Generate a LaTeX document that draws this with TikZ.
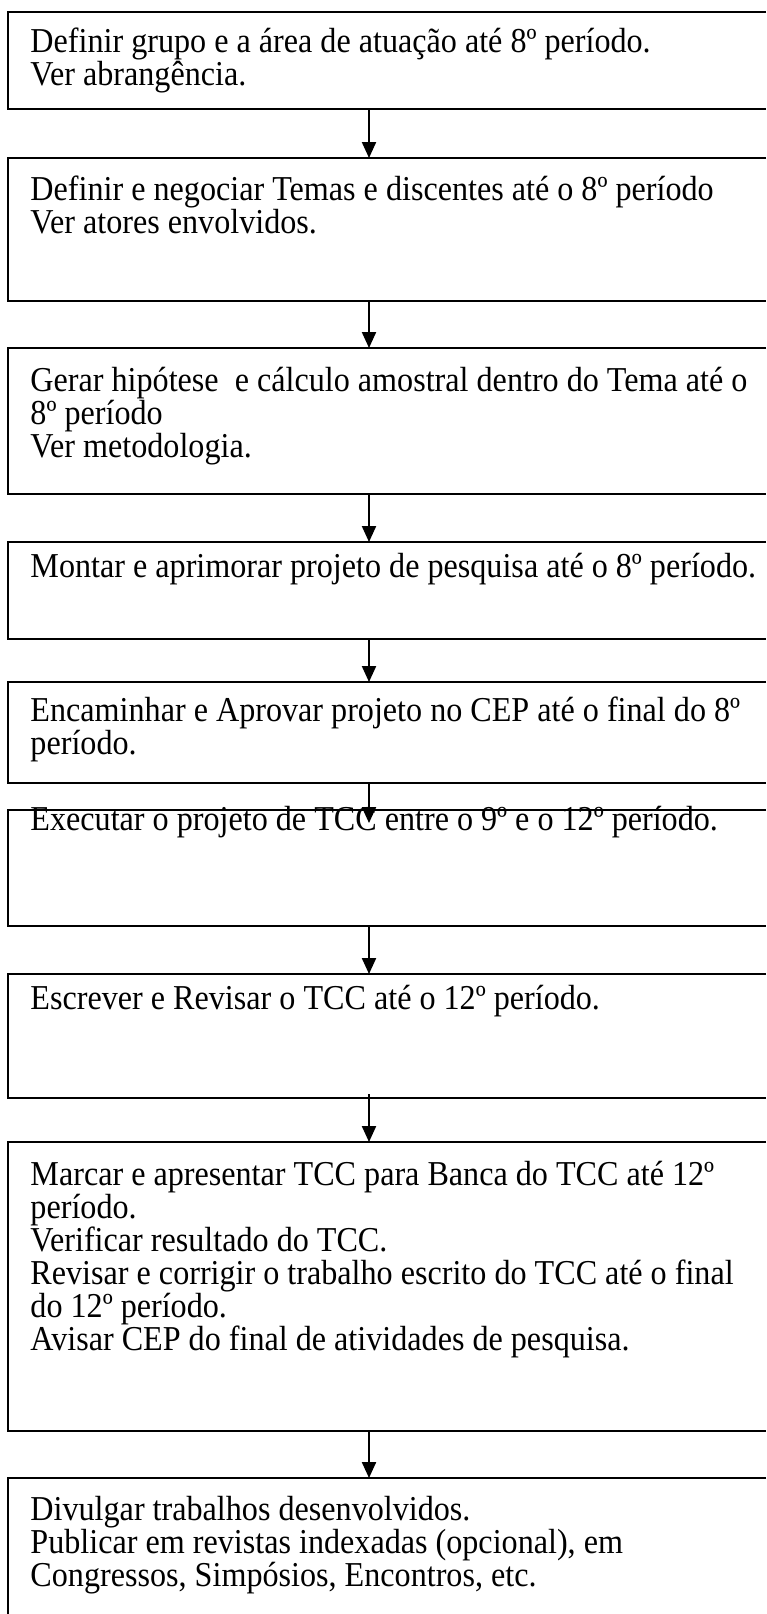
\documentclass[tikz,border=0pt]{standalone}
\usepackage{fontspec}
\setmainfont{Liberation Serif}[FakeStretch=0.92]
\usetikzlibrary{arrows.meta,calc}
\def\ux{0.42pt}
\begin{document}
\begin{tikzpicture}[x=0.42pt,y=-0.42pt,
  boxnode/.style={rectangle, inner sep=0pt, outer sep=0pt, anchor=north west, minimum width=758*\ux},
  boxline/.style={line width=0.8pt},
  txt/.style={anchor=base west, inner sep=0pt, align=left, font=\fontsize{14.67pt}{13.86pt}\selectfont},
  arr/.style={line width=0.8pt, -{Triangle[length=6.7pt,width=5.9pt]}}]
\useasboundingbox (0,0) rectangle (766,1614);
\fill[white] (0,0) rectangle (766,1614);
% boxes
\node[boxnode, minimum height=97*\ux]  (b1) at (8,12)   {};
\node[boxnode, minimum height=143*\ux] (b2) at (8,158)  {};
\node[boxnode, minimum height=146*\ux] (b3) at (8,348)  {};
\node[boxnode, minimum height=97*\ux]  (b4) at (8,542)  {};
\node[boxnode, minimum height=101*\ux] (b5) at (8,682)  {};
\node[boxnode, minimum height=116*\ux] (b6) at (8,810)  {};
\node[boxnode, minimum height=124*\ux] (b7) at (8,974)  {};
\node[boxnode, minimum height=289*\ux] (b8) at (8,1142) {};
\node[boxnode, minimum height=136*\ux] (b9) at (8,1478) {};
\foreach \b in {b1,b2,b3,b4,b5,b6,b7,b8}
  \draw[boxline] (\b.north east) -- (\b.north west) -- (\b.south west) -- (\b.south east);
\draw[boxline] (b9.north east) -- (b9.north west) -- (b9.south west);
% texts (anchored at the baseline of their last line)
\node[txt] (t1) at (30,85.5) {Definir grupo e a área de atuação até 8º período.\\Ver abrangência.};
\node[txt] (t2) at (30,234) {Definir e negociar Temas e discentes até o 8º período\\Ver atores envolvidos.};
\node[txt] (t3) at (30,457) {Gerar hipótese~ e cálculo amostral dentro do Tema até o\\8º período\\Ver metodologia.};
\node[txt] (t4) at (30,577.5) {Montar e aprimorar projeto de pesquisa até o 8º período.};
\node[txt] (t5) at (30,754.5) {Encaminhar e Aprovar projeto no CEP até o final do 8º\\período.};
\node[txt] (t6) at (30,830) {Executar o projeto de TCC entre o 9º e o 12º período.};
\node[txt] (t7) at (30,1009.5) {Escrever e Revisar o TCC até o 12º período.};
\node[txt] (t8) at (30,1350.5) {Marcar e apresentar TCC para Banca do TCC até 12º\\período.\\Verificar resultado do TCC.\\Revisar e corrigir o trabalho escrito do TCC até o final\\do 12º período.\\Avisar CEP do final de atividades de pesquisa.};
\node[txt] (t9) at (30,1586.5) {Divulgar trabalhos desenvolvidos.\\Publicar em revistas indexadas (opcional), em\\Congressos, Simpósios, Encontros, etc.};
% arrows
\coordinate (ax) at (369,0);
\coordinate (a6end) at (369,823);
\coordinate (a7start) at (369,1094);
\draw[arr] (b1.south -| ax) -- (b2.north -| ax);
\draw[arr] (b2.south -| ax) -- (b3.north -| ax);
\draw[arr] (b3.south -| ax) -- (b4.north -| ax);
\draw[arr] (b4.south -| ax) -- (b5.north -| ax);
\draw[arr] (b5.south -| ax) -- (a6end);
\draw[arr] (b6.south -| ax) -- (b7.north -| ax);
\draw[arr] (a7start) -- (b8.north -| ax);
\draw[arr] (b8.south -| ax) -- (b9.north -| ax);
\end{tikzpicture}
\end{document}
